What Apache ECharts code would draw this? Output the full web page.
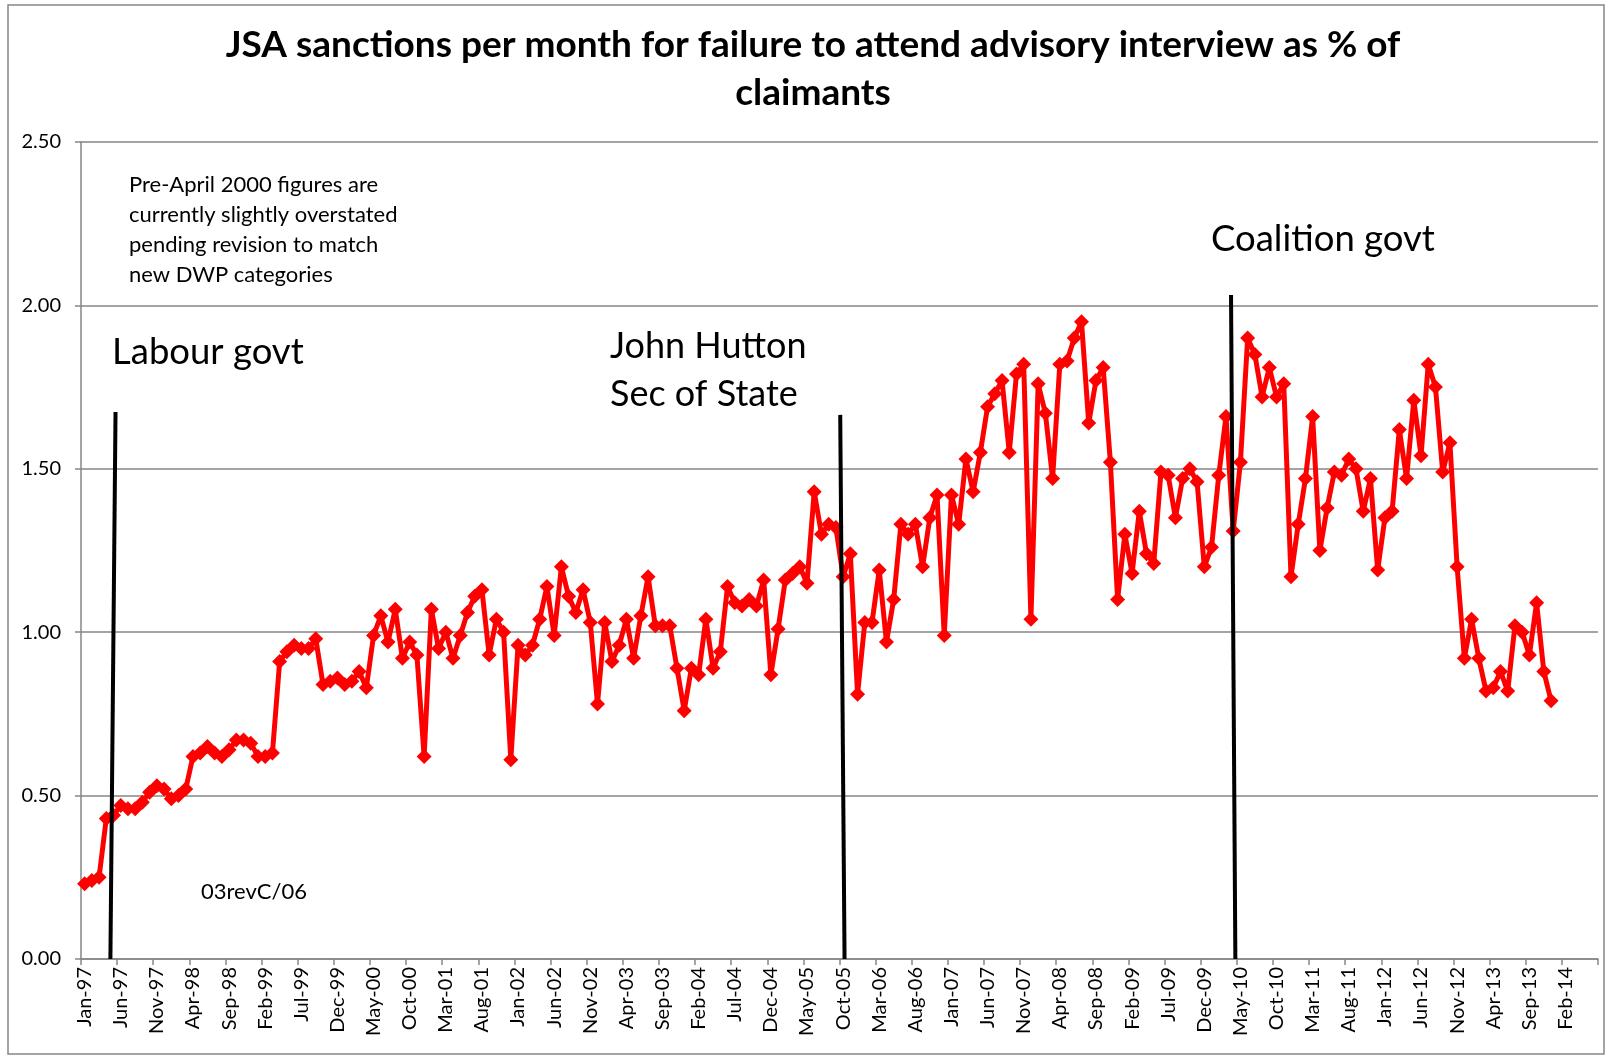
<!DOCTYPE html>
<html>
<head>
<meta charset="utf-8">
<title>JSA sanctions</title>
<script src="https://cdn.jsdelivr.net/npm/echarts@6/dist/echarts.min.js"></script>
<style>
  html, body { margin: 0; padding: 0; background: #fff; }
  #chart { width: 1607px; height: 1056px; }
</style>
</head>
<body>
<div id="chart"></div>
<script>
// month labels Jan-97 .. Jun-14 (axis runs a few empty months past the data)
var monthNames = ['Jan','Feb','Mar','Apr','May','Jun','Jul','Aug','Sep','Oct','Nov','Dec'];
var categories = [];
for (var yr = 1997; yr <= 2014; yr++) {
  for (var m = 0; m < 12; m++) {
    if (yr === 2014 && m > 5) break;
    categories.push(monthNames[m] + '-' + String(yr).slice(2));
  }
}

// sanctions as % of claimants, one value per month
var sanctions1997_2000 = [
  0.23, 0.24, 0.25, 0.43, 0.44, 0.47, 0.46, 0.46, 0.48, 0.51, 0.53, 0.52,
  0.49, 0.50, 0.52, 0.62, 0.63, 0.65, 0.63, 0.62, 0.64, 0.67, 0.67, 0.66,
  0.62, 0.62, 0.63, 0.91, 0.94, 0.96, 0.95, 0.95, 0.98, 0.84, 0.85, 0.86,
  0.84, 0.85, 0.88, 0.83, 0.99, 1.05, 0.97, 1.07, 0.92, 0.97, 0.93, 0.62
];
var sanctions2001_2004 = [
  1.07, 0.95, 1.00, 0.92, 0.99, 1.06, 1.11, 1.13, 0.93, 1.04, 1.00, 0.61,
  0.96, 0.93, 0.96, 1.04, 1.14, 0.99, 1.20, 1.11, 1.06, 1.13, 1.03, 0.78,
  1.03, 0.91, 0.96, 1.04, 0.92, 1.05, 1.17, 1.02, 1.02, 1.02, 0.89, 0.76,
  0.89, 0.87, 1.04, 0.89, 0.94, 1.14, 1.09, 1.08, 1.10, 1.08, 1.16, 0.87
];
var sanctions2005_2008 = [
  1.01, 1.16, 1.18, 1.20, 1.15, 1.43, 1.30, 1.33, 1.32, 1.17, 1.24, 0.81,
  1.03, 1.03, 1.19, 0.97, 1.10, 1.33, 1.30, 1.33, 1.20, 1.35, 1.42, 0.99,
  1.42, 1.33, 1.53, 1.43, 1.55, 1.69, 1.73, 1.77, 1.55, 1.79, 1.82, 1.04,
  1.76, 1.67, 1.47, 1.82, 1.83, 1.90, 1.95, 1.64, 1.77, 1.81, 1.52, 1.10
];
var sanctions2009_2013 = [
  1.30, 1.18, 1.37, 1.24, 1.21, 1.49, 1.48, 1.35, 1.47, 1.50, 1.46, 1.20,
  1.26, 1.48, 1.66, 1.31, 1.52, 1.90, 1.85, 1.72, 1.81, 1.72, 1.76, 1.17,
  1.33, 1.47, 1.66, 1.25, 1.38, 1.49, 1.48, 1.53, 1.50, 1.37, 1.47, 1.19,
  1.35, 1.37, 1.62, 1.47, 1.71, 1.54, 1.82, 1.75, 1.49, 1.58, 1.20, 0.92,
  1.04, 0.92, 0.82, 0.83, 0.88, 0.82, 1.02, 1.00, 0.93, 1.09, 0.88, 0.79
];
var yTicks = [0, 0.5, 1.0, 1.5, 2.0, 2.5];

var sanctions = [].concat(sanctions1997_2000, sanctions2001_2004, sanctions2005_2008, sanctions2009_2013);
while (sanctions.length < categories.length) sanctions.push(null);

// drawn marker lines: category position at the foot and at the top, and top value
var govtMarkers = [
  { footIdx: 3.57, topIdx: 4.28, topValue: 1.674 },
  { footIdx: 105.2, topIdx: 104.6, topValue: 1.665 },
  { footIdx: 159.3, topIdx: 158.7, topValue: 2.032 }
];

var FONT = 'Lato, "Open Sans", sans-serif';
var GRAY = '#868686';

var chart = echarts.init(document.getElementById('chart'));
chart.setOption({
  animation: false,
  backgroundColor: '#fff',
  title: {
    text: 'JSA sanctions per month for failure to attend advisory interview as % of\nclaimants',
    left: 813,
    top: 21,
    padding: 0,
    textAlign: 'center',
    textStyle: { fontFamily: FONT, fontSize: 37, fontWeight: 'bold', color: '#000', lineHeight: 48 }
  },
  grid: { left: 81, right: 9, top: 142, bottom: 97, containLabel: false, outerBoundsMode: 'none' },
  xAxis: {
    type: 'category',
    data: categories,
    boundaryGap: true,
    axisLine: { lineStyle: { color: GRAY, width: 1.5 } },
    axisTick: { show: true, interval: 4, length: 6, lineStyle: { color: GRAY, width: 1.5 } },
    axisLabel: { interval: 4, rotate: 90, fontFamily: FONT, fontSize: 20, color: '#000', margin: 8 },
    splitLine: { show: false }
  },
  yAxis: {
    type: 'value',
    min: yTicks[0],
    max: yTicks[yTicks.length - 1],
    interval: 0.5,
    axisLine: { show: true, lineStyle: { color: GRAY, width: 1.5 } },
    axisTick: { show: true, length: 6, lineStyle: { color: GRAY, width: 1.5 } },
    axisLabel: {
      fontFamily: FONT, fontSize: 20, color: '#000', margin: 20,
      formatter: function (v) { return v.toFixed(2); }
    },
    splitLine: { lineStyle: { color: GRAY, width: 1.5 } }
  },
  series: [{
    type: 'line',
    data: sanctions,
    symbol: 'diamond',
    symbolSize: 15,
    showAllSymbol: true,
    connectNulls: false,
    lineStyle: { color: '#ff0000', width: 5 },
    itemStyle: { color: '#ff0000' },
    z: 3
  }]
});

function xAt(idx) {
  var i = Math.floor(idx), f = idx - i;
  var a = chart.convertToPixel({ xAxisIndex: 0 }, categories[i]);
  var b = chart.convertToPixel({ xAxisIndex: 0 }, categories[i + 1]);
  return a + (b - a) * f;
}
function yAt(v) {
  return chart.convertToPixel({ yAxisIndex: 0 }, v);
}

var graphics = [{
  type: 'rect',
  shape: { x: 8, y: 5, width: 1596, height: 1049 },
  style: { fill: 'none', stroke: GRAY, lineWidth: 1.5 },
  silent: true
}];

govtMarkers.forEach(function (g) {
  graphics.push({
    type: 'line',
    shape: { x1: xAt(g.footIdx), y1: yAt(0), x2: xAt(g.topIdx), y2: yAt(g.topValue) },
    style: { stroke: '#000', lineWidth: 4 },
    z: 100,
    silent: true
  });
});

function note(text, x, y, size, lh) {
  return {
    type: 'text', x: x, y: y, z: 101, silent: true,
    style: {
      text: text, fill: '#000', font: size + 'px ' + FONT, lineHeight: lh || size * 1.2,
      align: 'left', verticalAlign: 'middle', textAlign: 'left', textVerticalAlign: 'middle'
    }
  };
}
graphics.push(note('Pre-April 2000 figures are\ncurrently slightly overstated\npending revision to match\nnew DWP categories', 129, 230, 22, 30));
graphics.push(note('Labour govt', 112, 352, 36.5));
graphics.push(note('John Hutton\nSec of State', 610, 370, 36, 48));
graphics.push(note('Coalition govt', 1211, 239, 36.5));
graphics.push(note('03revC/06', 201, 892, 22));

chart.setOption({ graphic: graphics });
</script>
</body>
</html>
